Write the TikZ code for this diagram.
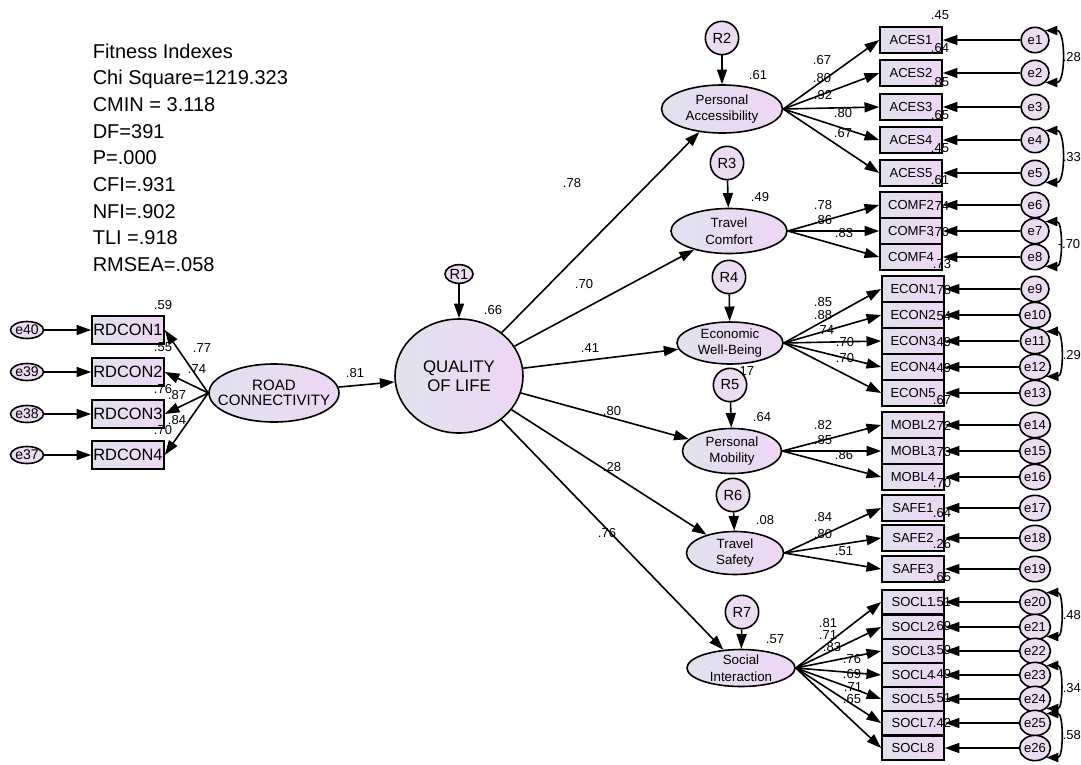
\documentclass[tikz,border=0pt]{standalone}
\usepackage{fontspec}
\setmainfont{Liberation Sans}
\usetikzlibrary{shapes.geometric,arrows.meta}

\definecolor{shadeL}{RGB}{224,226,238}
\definecolor{shadeR}{RGB}{238,214,244}
\definecolor{errfill}{RGB}{236,220,242}

% factor/item/x/y/error/R2/label x/label y/loading/height
\def\obsdata{pacc/ACES1/911/40/1/.45/822/60/.67/19.5,
  pacc/ACES2/911/73/2/.64/822/78/.80/19.5,
  pacc/ACES3/911/107/3/.85/823/95/.92/19.5,
  pacc/ACES4/911/140/4/.65/843/113/.80/19.5,
  pacc/ACES5/911/173/5/.45/843/133/.67/19.5,
  tcom/COMF2/911/205/6/.61/823/205/.78/19.5,
  tcom/COMF3/911/231/7/.74/823/220/.86/19.5,
  tcom/COMF4/911/257/8/.70/844/233/.83/19.5,
  ewb/ECON1/913/289/9/.73/823/302/.85/19.5,
  ewb/ECON2/913/315/10/.78/823/315/.88/19.5,
  ewb/ECON3/913/341/11/.54/825/330/.74/19.5,
  ewb/ECON4/913/367/12/.49/845/342/.70/19.5,
  ewb/ECON5/913/393/13/.49/845/358/.70/19.5,
  pmob/MOBL2/913/425/14/.67/823/425/.82/19.5,
  pmob/MOBL3/913/451/15/.72/823/440/.85/19.5,
  pmob/MOBL4/913/477/16/.73/844/455/.86/19.5,
  tsaf/SAFE1/913/508/17/.70/823/517/.84/19.5,
  tsaf/SAFE2/913/538/18/.64/823/534/.80/19.5,
  tsaf/SAFE3/913/569/19/.26/844/551/.51/19.5,
  sint/SOCL1/913/602/20/.65/828/623/.81/18,
  sint/SOCL2/913/627/21/.51/828/635/.71/18,
  sint/SOCL3/913/651/22/.69/832/647/.83/18,
  sint/SOCL4/913/675/23/.59/852/659/.76/18,
  sint/SOCL5/913/699/24/.49/852/674/.69/18,
  sint/SOCL7/913/723/25/.51/853/687/.71/18,
  sint/SOCL8/913/748/26/.42/852/699/.65/18}

\def\rddata{RDCON1/330/40/.59/202/348/.77,
  RDCON2/372/39/.55/197/369/.74,
  RDCON3/414/38/.76/177/395/.87,
  RDCON4/455/37/.70/177/420/.84}

\begin{document}
\begin{tikzpicture}
  [x=0.75pt,y=-0.75pt,line width=1.2pt,
   every node/.style={inner sep=0pt},
   obs/.style={draw,rectangle,left color=shadeL,right color=shadeR,
     minimum width=46.5pt,font=\fontsize{9.8}{11}\selectfont},
   rdobs/.style={obs,minimum width=54pt,minimum height=21pt,font=\fontsize{12.3}{14}\selectfont},
   latent/.style={draw,ellipse,left color=shadeL,right color=shadeR},
   lattext/.style={align=center,font=\fontsize{10}{12.5}\selectfont},
   err/.style={draw,ellipse,fill=errfill,minimum width=21pt,minimum height=19pt,
     font=\fontsize{9.8}{10}\selectfont},
   errL/.style={err,minimum width=22.5pt,minimum height=12.75pt,font=\fontsize{10.5}{11}\selectfont},
   res/.style={draw,circle,fill=errfill,minimum size=25pt,font=\fontsize{11}{12}\selectfont},
   coef/.style={font=\fontsize{9.75}{10}\selectfont},
   load/.style={-{Triangle[length=11pt,width=7.5pt]}},
   corr/.style={{Triangle[length=9pt,width=7pt]}-{Triangle[length=9pt,width=7pt]}}]
  \useasboundingbox (0,0) rectangle (1081,764);

  \node[anchor=north west,align=left,font=\fontsize{15}{20}\selectfont] (fitidx) at (92,43)
    {Fitness Indexes\\Chi Square=1219.323\\CMIN = 3.118\\DF=391\\P=.000\\CFI=.931\\NFI=.902\\TLI =.918\\RMSEA=.058};

  % latent variables
  \node[latent,minimum width=96pt,minimum height=85.5pt,
    label={[lattext,font=\fontsize{12.6}{14.3}\selectfont]center:QUALITY\\OF LIFE}] (qol) at (459,376) {};
  \node[latent,minimum width=97.5pt,minimum height=43.5pt,
    label={[lattext,font=\fontsize{11.3}{11.5}\selectfont]center:ROAD\\CONNECTIVITY}] (road) at (274,393) {};
  \node[latent,minimum width=90.75pt,minimum height=36pt,
    label={[lattext]center:Personal\\Accessibility}] (pacc) at (722,109) {};
  \node[latent,minimum width=87pt,minimum height=33.75pt,
    label={[lattext]center:Travel\\Comfort}] (tcom) at (729,231) {};
  \node[latent,minimum width=79.5pt,minimum height=31.5pt,
    label={[lattext]center:Economic\\Well-Being}] (ewb) at (730,343) {};
  \node[latent,minimum width=74.25pt,minimum height=33.75pt,
    label={[lattext]center:Personal\\Mobility}] (pmob) at (732,451) {};
  \node[latent,minimum width=72.75pt,minimum height=32.25pt,
    label={[lattext]center:Travel\\Safety}] (tsaf) at (735,553) {};
  \node[latent,minimum width=81pt,minimum height=27.75pt,
    label={[lattext]center:Social\\Interaction}] (sint) at (741,668) {};

  % residuals
  \node[res,ellipse,minimum width=21pt,minimum height=14pt] (R1) at (459,274) {R1};
  \draw[load] (R1) -- (qol);
  \node[coef] (sqol) at (493,310) {.66};
  \foreach \r/\fac/\rx/\ry/\rsq/\qx/\qy in {2/pacc/722/38/.61/758/75,
      3/tcom/727/163/.49/760/197, 4/ewb/729/277/.17/745/371,
      5/pmob/730/385/.64/762/417, 6/tsaf/733/495/.08/765/520,
      7/sint/742/612/.57/775/639}{
    \node[res] (R\r) at (\rx,\ry) {R\r};
    \node[coef] (s\fac) at (\qx,\qy) {\rsq};
    \draw[load] (R\r) -- (\fac);
  }

  % structural paths
  \draw[load] (road) -- (qol);
  \node[coef] (sroad) at (355,373) {.81};
  \foreach \fac/\lx/\ly/\ld in {pacc/572/183/.78, tcom/584/284/.70,
      ewb/590/348/.41, pmob/612/411/.80, tsaf/612/467/.28, sint/607/533/.76}{
    \draw[load] (qol) -- (\fac);
    \node[coef] (q\fac) at (\lx,\ly) {\ld};
  }

  % indicators
  \foreach \fac/\name/\bx/\yy/\err/\rsq/\lx/\ly/\ld/\hh in \obsdata{
    \node[obs,minimum height=\hh pt] (\name) at (\bx,\yy) {\name};
    \node[err] (e\err) at (1035,\yy) {e\err};
    \node[coef] (r\name) at (\bx+29,\yy-25) {\rsq};
    \node[coef] (l\name) at (\lx,\ly) {\ld};
  }
  \foreach \fac/\name/\bx/\yy/\err/\rsq/\lx/\ly/\ld/\hh in \obsdata{
    \draw[load] (\fac.east) -- (\name.west);
    \draw[load] (e\err) -- (\name);
  }
  \foreach \name/\yy/\err/\rsq/\lx/\ly/\ld in \rddata{
    \node[rdobs] (\name) at (128,\yy) {\name};
    \node[errL] (e\err) at (27,\yy) {e\err};
    \node[coef] (r\name) at (163,\yy-25) {\rsq};
    \node[coef] (l\name) at (\lx,\ly) {\ld};
  }
  \foreach \name/\yy/\err/\rsq/\lx/\ly/\ld in \rddata{
    \draw[load] (road.west) -- (\name.east);
    \draw[load] (e\err) -- (\name);
  }

  % error covariances
  \foreach \a/\b/\v/\vx/\vy in {1/2/.28/1062/57, 4/5/.33/1062/157, 7/8/-.70/1057/244,
      11/12/.29/1062/355, 20/21/.48/1062/615, 23/24/.34/1062/688, 25/26/.58/1062/735}{
    \draw[corr] (e\a.north east) to[bend left=90] (e\b.south east);
    \node[coef,anchor=west] (c\a) at (\vx,\vy) {\v};
  }
\end{tikzpicture}
\end{document}
